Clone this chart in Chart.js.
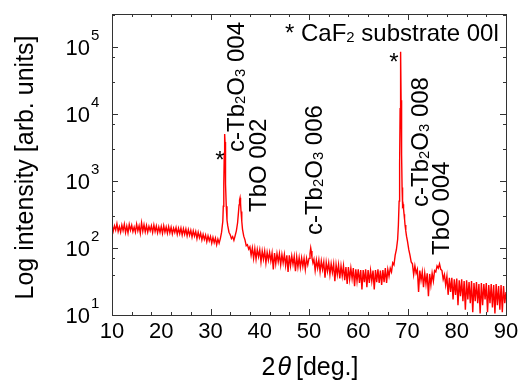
<!DOCTYPE html>
<html>
<head>
<meta charset="utf-8">
<script src="https://cdn.jsdelivr.net/npm/chart.js@4.4.1/dist/chart.umd.min.js"></script>
<style>
  html, body { margin: 0; padding: 0; background: #fff; }
  .wrap { width: 519px; height: 380px; position: relative; }
</style>
</head>
<body>
<div class="wrap"><canvas id="xrd"></canvas></div>
<script>
// 2theta scan: angle (deg) and intensity (counts)
const angles = [
  10, 10.25, 10.5, 10.75,
  11, 11.25, 11.5, 11.75,
  12, 12.25, 12.5, 12.75,
  13, 13.25, 13.5, 13.75,
  14, 14.25, 14.5, 14.75,
  15, 15.25, 15.5, 15.75,
  16, 16.25, 16.5, 16.75,
  17, 17.25, 17.5, 17.75,
  18, 18.25, 18.5, 18.75,
  19, 19.25, 19.5, 19.75,
  20, 20.25, 20.5, 20.75,
  21, 21.25, 21.5, 21.75,
  22, 22.25, 22.5, 22.75,
  23, 23.25, 23.5, 23.75,
  24, 24.25, 24.5, 24.75,
  25, 25.25, 25.5, 25.75,
  26, 26.25, 26.5, 26.75,
  27, 27.25, 27.5, 27.75,
  28, 28.25, 28.5, 28.75,
  29, 29.25, 29.5, 29.75,
  30, 30.25, 30.5, 30.75,
  31, 31.25, 31.5, 31.75,
  32, 32.25, 32.5, 32.6, 32.7, 32.8, 32.85, 32.9, 32.95, 33, 33.1, 33.2, 33.35, 33.5, 33.75,
  34, 34.25, 34.5, 34.75,
  35, 35.25, 35.5, 35.65, 35.8, 35.9, 36, 36.1, 36.2, 36.35, 36.5, 36.75,
  37, 37.25, 37.5, 37.75,
  38, 38.25, 38.5, 38.75,
  39, 39.25, 39.5, 39.75,
  40, 40.25, 40.5, 40.75,
  41, 41.25, 41.5, 41.75,
  42, 42.25, 42.5, 42.75,
  43, 43.25, 43.5, 43.75,
  44, 44.25, 44.5, 44.75,
  45, 45.25, 45.5, 45.75,
  46, 46.25, 46.5, 46.75,
  47, 47.25, 47.5, 47.75,
  48, 48.25, 48.5, 48.75,
  49, 49.25, 49.5, 49.75,
  50, 50.2, 50.35, 50.45, 50.6, 50.8,
  51, 51.25, 51.5, 51.75,
  52, 52.25, 52.5, 52.75,
  53, 53.25, 53.5, 53.75,
  54, 54.25, 54.5, 54.75,
  55, 55.25, 55.5, 55.75,
  56, 56.25, 56.5, 56.75,
  57, 57.25, 57.5, 57.75,
  58, 58.25, 58.5, 58.75,
  59, 59.25, 59.5, 59.75,
  60, 60.25, 60.5, 60.75,
  61, 61.25, 61.5, 61.75,
  62, 62.25, 62.5, 62.75,
  63, 63.25, 63.5, 63.75,
  64, 64.25, 64.5, 64.75,
  65, 65.25, 65.5, 65.75,
  66, 66.25, 66.5, 66.75,
  67, 67.25, 67.5, 67.75, 68, 68.15, 68.3, 68.4, 68.5, 68.6, 68.7, 68.8, 68.9, 69, 69.1, 69.2, 69.3, 69.4, 69.5, 69.65, 69.8,
  70, 70.25, 70.5, 70.75,
  71, 71.25, 71.5, 71.75,
  72, 72.25, 72.5, 72.75,
  73, 73.25, 73.5, 73.75,
  74, 74.25, 74.5, 74.75,
  75, 75.25, 75.5, 75.75,
  76, 76.25, 76.5, 76.75,
  77, 77.25, 77.5, 77.75,
  78, 78.25, 78.5, 78.75,
  79, 79.25, 79.5, 79.75,
  80, 80.25, 80.5, 80.75,
  81, 81.25, 81.5, 81.75,
  82, 82.25, 82.5, 82.75,
  83, 83.25, 83.5, 83.75,
  84, 84.25, 84.5, 84.75,
  85, 85.25, 85.5, 85.75,
  86, 86.25, 86.5, 86.75,
  87, 87.25, 87.5, 87.75,
  88, 88.25, 88.5, 88.75,
  89, 89.25, 89.5, 89.75,
  90
];

const counts = [
  222, 178, 214, 185,
  230, 176, 208, 172,
  220, 182, 226, 170,
  212, 168, 224, 184,
  218, 175, 205, 172,
  226, 180, 214, 166,
  238, 178, 222, 174,
  216, 172, 210, 181,
  214, 170, 220, 176,
  212, 168, 206, 171,
  210, 165, 214, 172,
  205, 166, 208, 168,
  204, 162, 198, 170,
  202, 160, 196, 163,
  198, 156, 194, 160,
  192, 152, 188, 155,
  184, 146, 180, 150,
  176, 138, 172, 142,
  166, 132, 160, 134,
  156, 124, 152, 128,
  148, 118, 144, 120,
  140, 112, 136, 118,
  138, 172, 250, 420, 900, 2600, 4000, 5000, 3800, 2200, 900, 420, 260, 215, 172,
  158, 138, 148, 130,
  152, 180, 238, 320, 440, 520, 560, 470, 350, 250, 190, 150,
  132, 108, 112, 96,
  104, 78, 100, 70,
  98, 68, 95, 74,
  94, 62, 90, 68,
  90, 60, 86, 66,
  86, 64, 84, 48,
  84, 58, 82, 62,
  82, 56, 80, 60,
  80, 55, 78, 44,
  78, 54, 76, 57,
  75, 45, 74, 52,
  72, 51, 71, 53,
  70, 48, 70, 56,
  70, 82, 100, 90, 72, 60,
  68, 46, 66, 50,
  66, 44, 64, 48,
  62, 36, 61, 45,
  60, 40, 58, 43,
  58, 32, 56, 40,
  56, 35, 54, 38,
  54, 33, 52, 29,
  52, 34, 50, 35,
  50, 27, 48, 32,
  48, 30, 47, 24,
  47, 31, 48, 26,
  47, 30, 46, 32,
  46, 24, 47, 31,
  48, 30, 46, 28,
  47, 31, 50, 30,
  48, 38, 50, 44,
  60, 56, 78, 95, 135, 220, 500, 1800, 12000, 85000, 16000, 2500, 800, 430, 450, 380, 320, 270, 220, 180, 150,
  125, 95, 78, 62,
  58, 40, 54, 42,
  48, 22, 46, 33,
  44, 26, 42, 29,
  42, 19, 41, 28,
  42, 32, 46, 44,
  54, 50, 58, 48,
  46, 34, 40, 28,
  38, 20, 36, 22,
  36, 17, 34, 20,
  35, 14, 33, 19,
  34, 16, 32, 12,
  33, 17, 31, 15,
  32, 11, 30, 16,
  31, 15, 29, 10.5,
  30, 14, 29, 17,
  30, 11, 28, 15,
  29, 13, 28, 10.5,
  29, 14, 27, 12,
  28, 11, 27, 15,
  22
];

const xTickLabels = [10, 20, 30, 40, 50, 60, 70, 80, 90];
const yTickPowers = [1, 2, 3, 4, 5];

// peak labels, placed at (angle, intensity); _n means a subscript digit
const peakLabels = [
  { text: 'c-Tb_2O_3 004', at: [34.97, 2710], vertical: true },
  { text: 'TbO 002', at: [39.44, 344], vertical: true },
  { text: 'c-Tb_2O_3 006', at: [50.81, 156], vertical: true },
  { text: 'c-Tb_2O_3 008', at: [72.34, 409], vertical: true },
  { text: 'TbO 004', at: [76.6, 78.7], vertical: true },
  { text: '*', at: [31.93, 2440], star: true },
  { text: '*', at: [67.26, 71000], star: true },
  { text: '* CaF_2 substrate 00l', at: [45.13, 162000] }
];

if (angles.length !== counts.length) console.warn('length mismatch', angles.length, counts.length);

const FONT = '"Liberation Sans", Arial, sans-serif';

function drawParts(ctx, str, size, baseY) {
  const parts = str.split(/_(\d)/);
  let x = 0;
  parts.forEach((p, i) => {
    const sub = i % 2 === 1;
    ctx.font = (sub ? size * 0.62 : size) + 'px ' + FONT;
    ctx.fillText(p, x, baseY + (sub ? 1 : 0));
    x += ctx.measureText(p).width;
  });
}

const framePlugin = {
  id: 'frame',
  afterDatasetsDraw(chart) {
    const { ctx, chartArea: a, scales: { x, y } } = chart;
    ctx.save();

    // box + inward ticks
    ctx.strokeStyle = '#333';
    ctx.lineWidth = 1;
    ctx.strokeRect(a.left + 0.5, a.top + 0.5, a.right - a.left, a.bottom - a.top);
    ctx.beginPath();
    x.ticks.forEach(t => {
      const px = Math.round(x.getPixelForValue(t.value)) + 0.5;
      const len = t.value % 10 === 0 ? 6 : 3;
      ctx.moveTo(px, a.bottom); ctx.lineTo(px, a.bottom - len);
      ctx.moveTo(px, a.top); ctx.lineTo(px, a.top + len);
    });
    y.ticks.forEach(t => {
      const m = t.value / Math.pow(10, Math.floor(Math.log10(t.value) + 1e-9));
      if (Math.abs(m - Math.round(m)) > 1e-6) return;
      const py = Math.round(y.getPixelForValue(t.value)) + 0.5;
      const len = Math.round(m) === 1 ? 6 : 3;
      ctx.moveTo(a.left, py); ctx.lineTo(a.left + len, py);
      ctx.moveTo(a.right, py); ctx.lineTo(a.right - len, py);
    });
    ctx.stroke();

    // tick labels
    ctx.fillStyle = '#000';
    ctx.textBaseline = 'alphabetic';
    xTickLabels.forEach(v => {
      ctx.font = '22px ' + FONT;
      ctx.textAlign = 'center';
      ctx.fillText(String(v), x.getPixelForValue(v), a.bottom + 23);
    });
    yTickPowers.forEach(p => {
      const py = y.getPixelForValue(Math.pow(10, p));
      ctx.font = '22px ' + FONT;
      ctx.textAlign = 'right';
      ctx.fillText('10', a.left - 22, py + 8);
      ctx.font = '15px ' + FONT;
      ctx.textAlign = 'left';
      ctx.fillText(String(p), a.left - 21, py - 7);
    });

    // axis titles
    ctx.save();
    ctx.translate(33, (a.top + a.bottom) / 2 + 3);
    ctx.rotate(-Math.PI / 2);
    ctx.textAlign = 'center';
    ctx.font = '25px ' + FONT;
    ctx.fillText('Log intensity [arb. units]', 0, 0);
    ctx.restore();

    ctx.textAlign = 'left';
    ctx.font = '25px ' + FONT;
    const w2 = ctx.measureText('2').width;
    const wd = ctx.measureText('[deg.]').width;
    ctx.font = 'italic 25px ' + FONT;
    const wt = ctx.measureText('\u03b8').width;
    let tx = (a.left + a.right) / 2 - (w2 + wt + wd + 7) / 2 + 1;
    ctx.font = '25px ' + FONT;
    ctx.fillText('2', tx, 375);
    tx += w2 + 2;
    ctx.font = 'italic 25px ' + FONT;
    ctx.fillText('\u03b8', tx, 375);
    tx += wt + 5;
    ctx.font = '25px ' + FONT;
    ctx.fillText('[deg.]', tx, 375);

    // peak labels
    const size = 24;
    peakLabels.forEach(l => {
      const px = x.getPixelForValue(l.at[0]);
      const py = y.getPixelForValue(l.at[1]);
      ctx.save();
      ctx.translate(px, py);
      if (l.vertical) {
        ctx.rotate(-Math.PI / 2);
        ctx.textAlign = 'left';
        drawParts(ctx, l.text, size, size * 0.358);
      } else if (l.star) {
        ctx.textAlign = 'center';
        ctx.font = size + 'px ' + FONT;
        ctx.fillText(l.text, 0, size * 0.55);
      } else {
        ctx.textAlign = 'left';
        drawParts(ctx, l.text, size, size * 0.358);
      }
      ctx.restore();
    });

    ctx.restore();
  }
};

new Chart(document.getElementById('xrd'), {
  type: 'line',
  data: {
    datasets: [{
      data: angles.map((a, i) => ({ x: a, y: counts[i] })),
      borderColor: '#ff0000',
      borderWidth: 1.4,
      pointRadius: 0,
      tension: 0,
      fill: false
    }]
  },
  options: {
    responsive: true,
    maintainAspectRatio: false,
    animation: false,
    layout: { padding: { left: 112, right: 13, top: 14, bottom: 65 } },
    plugins: { legend: { display: false }, tooltip: { enabled: false } },
    scales: {
      x: { type: 'linear', min: 10, max: 90, display: false, ticks: { stepSize: 2 } },
      y: { type: 'logarithmic', min: 10, max: 310000, display: false }
    }
  },
  plugins: [framePlugin]
});
</script>
</body>
</html>
